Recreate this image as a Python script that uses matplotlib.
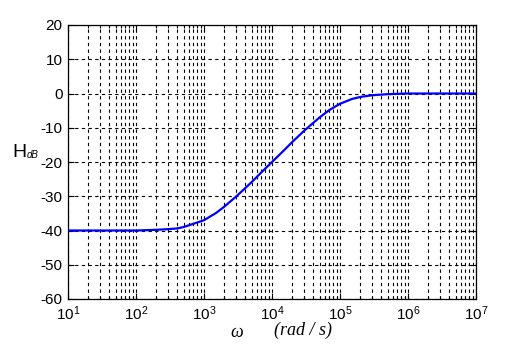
import numpy as np
import matplotlib.pyplot as plt
from matplotlib.ticker import LogLocator, NullFormatter, FixedLocator

plt.rcParams['font.family'] = 'Liberation Sans'
plt.rcParams['mathtext.fontset'] = 'custom'
plt.rcParams['mathtext.rm'] = 'Liberation Sans'
plt.rcParams['mathtext.it'] = 'Liberation Sans:italic'
plt.rcParams['axes.unicode_minus'] = False

# values
omega = [1e1, 1e2, 2e2, 3e2, 4e2, 5e2, 1e3, 1.5e3, 2e3, 3e3, 4e3, 5e3, 7e3,
         1e4, 1.5e4, 2e4, 3e4, 5e4, 7e4, 1e5, 1.5e5, 2e5, 3e5, 5e5, 1e6, 1e7]
h_db = [-40.0, -40.0, -39.8, -39.6, -39.4, -39.0, -37.0, -34.9, -33.0, -30.0,
        -27.7, -25.9, -23.0, -20.0, -16.6, -14.1, -10.8, -7.0, -4.8, -3.0,
        -1.6, -1.0, -0.5, -0.2, 0.0, 0.0]

yticks = [-60, -50, -40, -30, -20, -10, 0, 10, 20]
xticks = [1e1, 1e2, 1e3, 1e4, 1e5, 1e6, 1e7]
xticklabels = [r'$10^{%d}$' % k for k in range(1, 8)]

fig = plt.figure(figsize=(5.26, 3.47), dpi=100)
ax = fig.add_axes([68/526, 1 - 299/347, (476 - 68)/526, (299 - 25)/347])

ax.semilogx(omega, h_db, color=(0, 0, 1), lw=1.6, zorder=3)

ax.set_xlim(1e1, 1e7)
ax.set_ylim(-60, 20)
ax.xaxis.set_major_locator(FixedLocator(xticks))
ax.xaxis.set_minor_locator(LogLocator(base=10, subs=np.arange(2, 10), numticks=20))
ax.xaxis.set_minor_formatter(NullFormatter())
ax.set_xticklabels(xticklabels)
ax.set_yticks(yticks)

ax.grid(which='major', axis='both', color='k', ls=(0, (3, 3)), lw=0.8)
ax.grid(which='minor', axis='x', color='k', ls=(0, (3, 3)), lw=0.8)

ax.tick_params(which='both', direction='in', top=True, right=True,
               labelsize=11, width=0.8)
ax.tick_params(which='major', length=4, pad=4)
ax.tick_params(which='minor', length=2)
for s in ax.spines.values():
    s.set_linewidth(0.9)

fig.text(12/526, 1 - 157/347, 'H', fontsize=14, ha='left', va='baseline')
fig.text(27/526, 1 - 158/347, 'dB', fontsize=7, style='italic', ha='left', va='baseline')
fig.text(237/526, 1 - 337/347, 'ω', fontsize=13, family='Liberation Serif',
         style='italic', ha='center', va='baseline')
fig.text(303/526, 1 - 335/347, '(rad / s)', fontsize=13, family='Liberation Serif',
         style='italic', ha='center', va='baseline')

fig.savefig('out.png', dpi=100, facecolor='white')
